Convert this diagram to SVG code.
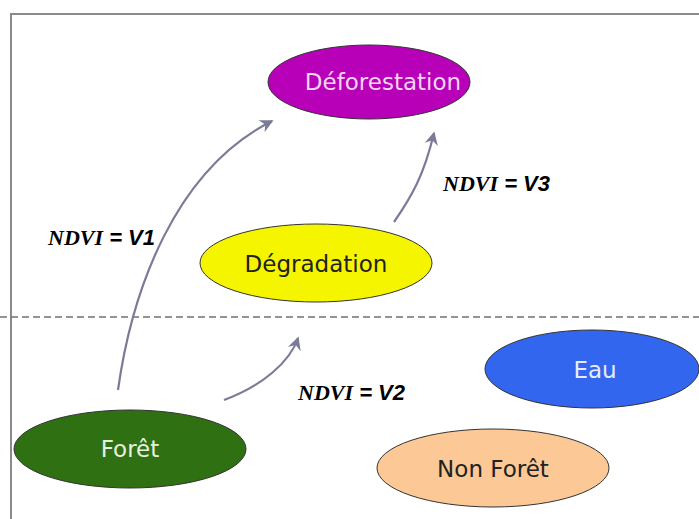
<svg xmlns="http://www.w3.org/2000/svg" width="699" height="519" viewBox="0 0 699 519">
<style>
.node ellipse{stroke:#333;stroke-width:1}
.lbl{font-family:"DejaVu Sans",sans-serif;font-size:23px;text-anchor:middle;dominant-baseline:central}
.conn path{fill:none;stroke:#7b7b99;stroke-width:2.2}
.nd{font-family:"Liberation Serif",serif;font-weight:bold;font-style:italic;font-size:22px}
.eq{font-family:"Liberation Sans",sans-serif;font-weight:bold;font-style:italic;font-size:22px}
</style>
<defs>
<marker id="ah" viewBox="0 0 12 12" refX="10" refY="6" markerWidth="10" markerHeight="10" markerUnits="userSpaceOnUse" orient="auto" overflow="visible">
<path d="M-4,-2 L12,6 L-4,14 L1,6 Z" fill="#7b7b99"/>
</marker>
</defs>
<rect width="699" height="519" fill="#ffffff"/>
<path d="M11,519 V14 H699" fill="none" stroke="#8a8a8a" stroke-width="2"/>
<line x1="0" y1="317" x2="699" y2="317" stroke="#707070" stroke-width="1.5" stroke-dasharray="7,4"/>
<g class="conn">
<path d="M118,390 C132,290 175,170 272,121" marker-end="url(#ah)"/>
<path d="M224,400 C262,386 290,362 298,338" marker-end="url(#ah)"/>
<path d="M394,222 C412,196 424,175 434,133" stroke-width="1.5" marker-end="url(#ah)"/>
</g>
<g id="deforestation" class="node"><ellipse cx="369" cy="82" rx="101" ry="37" fill="#b800b8"/><text class="lbl" x="383" y="82" fill="#f6d6f6">Déforestation</text></g>
<g id="degradation" class="node"><ellipse cx="316" cy="263" rx="116" ry="39" fill="#f5f500"/><text class="lbl" x="316" y="264" fill="#222">Dégradation</text></g>
<g id="foret" class="node"><ellipse cx="130" cy="449" rx="116" ry="39" fill="#2e7012"/><text class="lbl" x="130" y="449" fill="#e8f0e0">Forêt</text></g>
<g id="eau" class="node"><ellipse cx="592" cy="369" rx="107" ry="39" fill="#3366ee"/><text class="lbl" x="595" y="370" fill="#e6ecff">Eau</text></g>
<g id="nonforet" class="node"><ellipse cx="493" cy="468" rx="116" ry="39" fill="#fbc896"/><text class="lbl" x="493" y="469" fill="#222">Non Forêt</text></g>
<text x="48" y="245"><tspan class="nd">NDVI</tspan><tspan class="eq"> = V1</tspan></text>
<text x="443" y="191"><tspan class="nd">NDVI</tspan><tspan class="eq"> = V3</tspan></text>
<text x="298" y="400"><tspan class="nd">NDVI</tspan><tspan class="eq"> = V2</tspan></text>
</svg>
